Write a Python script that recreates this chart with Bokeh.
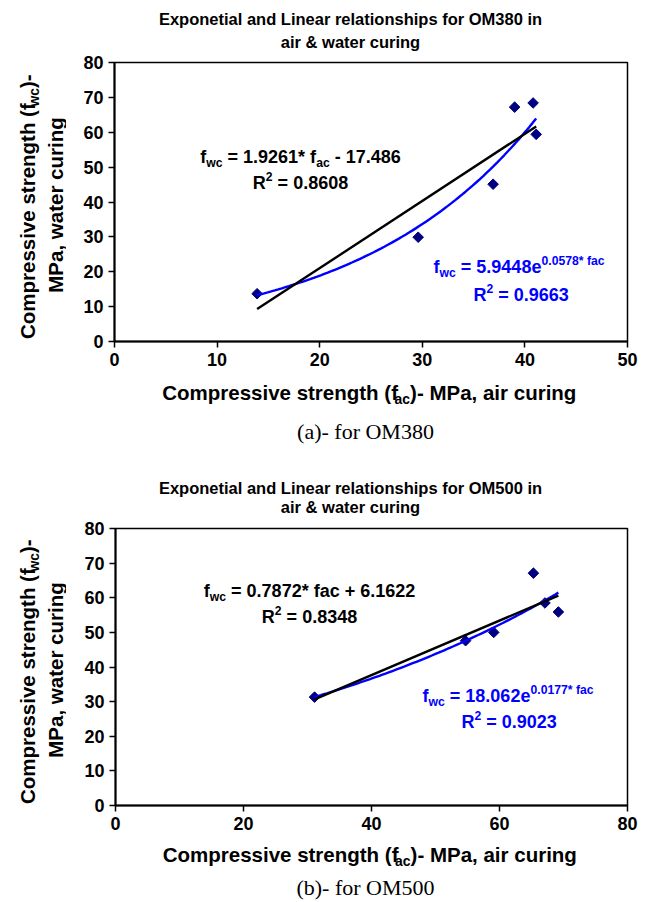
import numpy as np
from bokeh.plotting import figure
from bokeh.models import Range1d, FixedTicker
from bokeh.core.properties import value
from bokeh.layouts import column, row
from bokeh.embed import file_html
from bokeh.resources import INLINE

# ---------------- data: (a) OM380 ----------------
a_fac = [13.9, 29.6, 36.9, 39.0, 40.8, 41.1]
a_fwc = [13.7, 29.9, 45.1, 67.2, 68.4, 59.4]
a_lin = [1.9261, -17.486]      # slope, intercept
a_exp = [5.9448, 0.0578]       # coefficient, exponent
a_r2 = ["0.8608", "0.9663"]
a_xticks = [0, 10, 20, 30, 40, 50]
a_title = ["Exponetial and Linear relationships for OM380 in", "air & water curing"]
a_caption = "(a)- for OM380"

# ---------------- data: (b) OM500 ----------------
b_fac = [31.1, 54.7, 59.1, 65.3, 67.1, 69.2]
b_fwc = [31.3, 47.6, 50.0, 67.1, 58.5, 55.9]
b_lin = [0.7872, 6.1622]
b_exp = [18.062, 0.0177]
b_r2 = ["0.8348", "0.9023"]
b_xticks = [0, 20, 40, 60, 80]
b_title = ["Exponetial and Linear relationships for OM500 in", "air & water curing"]
b_caption = "(b)- for OM500"

yticks = [0, 10, 20, 30, 40, 50, 60, 70, 80]

FONT = "Liberation Sans"
NAVY = "#000080"
BLUE = "#0000FF"
W = 646
YLW = 66
MID = 0.3465   # box centre above baseline, in em (Liberation Sans)

# Arial/Liberation Sans Bold advance widths (1/1000 em)
AW = {' ': 278, '(': 333, ')': 333, '*': 389, '+': 584, ',': 278, '-': 333, '.': 278,
      '=': 584, '&': 722, 'C': 722, 'E': 667, 'L': 611, 'M': 833, 'O': 778, 'P': 667,
      'R': 722, 'a': 556, 'c': 556, 'd': 611, 'e': 556, 'f': 333, 'g': 611, 'h': 611,
      'i': 278, 'l': 278, 'n': 611, 'o': 611, 'p': 611, 'r': 389, 's': 556, 't': 333,
      'u': 611, 'v': 556, 'w': 778, 'x': 556}
for _d in "0123456789":
    AW[_d] = 556


def tw(s, size):
    return sum(AW.get(c, 556) for c in s) / 1000.0 * size


class Canvas:
    """A figure plus the page point (RX, RY) where its data origin sits."""
    def __init__(self, p, RX, RY):
        self.p, self.RX, self.RY = p, RX, RY

    def put(self, cx, cy, txt, fs, color, angle=0.0, font=FONT, style="bold"):
        """Centre of the text box at page pixel (cx, cy)."""
        p = self.p
        p.text(x=[p.x_range.start], y=[p.y_range.start],
               x_offset=cx - self.RX, y_offset=cy - self.RY, text=[txt], angle=angle,
               text_align="center", text_baseline="middle", text_font=value(font),
               text_font_style=style, text_font_size=value(f"{fs:.1f}px"),
               text_color=color)


def rich(cv, segs, px, py, size, color, align="left", angle=0.0, sub_scale=0.68):
    """Line of normal/sub/sup pieces. Along the text px (start or centre), py = centre across."""
    sizes = [size if k == "n" else size * sub_scale for t, k in segs]
    ws = [tw(t, s) for (t, k), s in zip(segs, sizes)]
    total = sum(ws)
    pos = -total / 2.0 if align == "center" else 0.0
    for (t, k), w, fs in zip(segs, ws, sizes):
        lead = len(t) - len(t.lstrip(' '))
        shift = tw(' ' * lead, fs)
        txt = t.strip(' ')
        d = 0.0 if k == "n" else (-0.2 * size if k == "sub" else 0.45 * size)
        down = MID * size - d - MID * fs
        along = pos + shift + tw(txt, fs) / 2.0
        if txt:
            if angle == 0:
                cv.put(px + along, py + down, txt, fs, color)
            else:
                cv.put(px + down, py - along, txt, fs, color, angle=angle)
        pos += w


def text_fig(w, h, ox, oy, b_top=0, b_bottom=0):
    fh = h - b_top - b_bottom
    f = figure(width=w, height=h, output_backend="svg", toolbar_location=None, title=None,
               x_range=Range1d(0, w), y_range=Range1d(0, fh), min_border=0,
               x_axis_type=None, y_axis_type=None)
    f.min_border_left = 0
    f.min_border_right = 0
    f.min_border_top = b_top
    f.min_border_bottom = b_bottom
    f.outline_line_color = None
    f.xgrid.visible = False
    f.ygrid.visible = False
    f.border_fill_color = "white"
    f.background_fill_color = "white"
    return Canvas(f, ox, oy + h - b_bottom)


def make_chart(fac, fwc, lin, exp, r2, xticks, title, caption, top, geo, eq, linear_fac_sub):
    FLp, FRp, FTp, FBp = geo["frame"]
    t_h, m_h, x_h = geo["t_h"], geo["m_h"], geo["x_h"]
    m_top = top + t_h
    x_top = m_top + m_h

    # ---- main plot ----
    p = figure(width=W - YLW, height=m_h, output_backend="svg", toolbar_location=None,
               title=None, x_range=Range1d(xticks[0], xticks[-1]),
               y_range=Range1d(yticks[0], yticks[-1]),
               min_border_left=FLp - YLW, min_border_right=W - FRp,
               min_border_top=FTp - m_top, min_border_bottom=x_top - FBp)
    p.xgrid.visible = False
    p.ygrid.visible = False
    p.outline_line_color = "black"
    p.outline_line_width = 1.5
    p.background_fill_color = "white"
    p.border_fill_color = "white"
    p.xaxis.ticker = FixedTicker(ticks=xticks)
    p.yaxis.ticker = FixedTicker(ticks=yticks)
    for ax in (p.xaxis[0], p.yaxis[0]):
        ax.axis_line_color = "black"
        ax.axis_line_width = 2
        ax.major_tick_line_color = "black"
        ax.major_tick_line_width = 1.5
        ax.major_tick_out = 6
        ax.major_tick_in = 0
        ax.minor_tick_out = 0
        ax.minor_tick_in = 0
        ax.major_label_text_font = FONT
        ax.major_label_text_font_style = "bold"
        ax.major_label_text_font_size = "18px"
        ax.major_label_text_color = "black"
        ax.major_label_standoff = 5
        ax.axis_label = None

    p.scatter(fac, fwc, marker="square", angle=np.pi / 4, size=7.5,
              fill_color=NAVY, line_color=NAVY)
    xs = np.linspace(min(fac), max(fac), 80)
    p.line(xs, exp[0] * np.exp(exp[1] * xs), line_color=BLUE, line_width=2.4)
    xl = np.array([min(fac), max(fac)])
    p.line(xl, lin[0] * xl + lin[1], line_color="black", line_width=2.4)

    cm = Canvas(p, FLp, FBp)
    sgn = "+" if lin[1] >= 0 else "-"
    if linear_fac_sub:
        segs = [("f", "n"), ("wc", "sub"), (f" = {lin[0]}* f", "n"), ("ac", "sub"),
                (f" {sgn} {abs(lin[1])}", "n")]
    else:
        segs = [("f", "n"), ("wc", "sub"), (f" = {lin[0]}* fac {sgn} {abs(lin[1])}", "n")]
    lx, ly1, ly2 = eq["lin"]
    rich(cm, segs, lx, ly1, 18, "black", align="center")
    rich(cm, [("R", "n"), ("2", "sup"), (f" = {r2[0]}", "n")], lx, ly2, 18, "black", align="center")
    ex, ey1, ex2, ey2 = eq["exp"]
    rich(cm, [("f", "n"), ("wc", "sub"), (f" = {exp[0]}e", "n"), (f"{exp[1]}* fac", "sup")],
         ex, ey1, 18, BLUE)
    rich(cm, [("R", "n"), ("2", "sup"), (f" = {r2[1]}", "n")], ex2, ey2, 18, BLUE)

    # ---- title ----
    ct = text_fig(W, t_h, 0, top)
    ct.put(eq["title_x"], eq["title_y"][0], title[0], 16.5, "black")
    ct.put(eq["title_x"], eq["title_y"][1], title[1], 16.5, "black")

    # ---- y label (its frame lines up with the main frame inside the row) ----
    cy_ = text_fig(YLW, m_h, 0, m_top, b_top=FTp - m_top, b_bottom=x_top - FBp)
    cyc = (FTp + FBp) / 2.0 + 3
    rich(cy_, [("Compressive strength (f", "n"), ("wc", "sub"), (")-", "n")],
         27, cyc, 20.5, "black", align="center", angle=np.pi / 2)
    rich(cy_, [("MPa, water curing", "n")], 55, cyc, 20.5, "black", align="center",
         angle=np.pi / 2)

    # ---- x label + caption ----
    cx_ = text_fig(W, x_h, 0, x_top)
    cxc = (FLp + FRp) / 2.0
    rich(cx_, [("Compressive strength (f", "n"), ("ac", "sub"), (")- MPa, air curing", "n")],
         cxc, eq["xlab_y"], 20.5, "black", align="center")
    cx_.put(eq["cap_x"], eq["cap_y"], caption, 22, "black", font="Liberation Serif",
            style="normal")

    return column(ct.p, row(cy_.p, p, spacing=0), cx_.p, spacing=0)


c1 = make_chart(a_fac, a_fwc, a_lin, a_exp, a_r2, a_xticks, a_title, a_caption, top=0,
                geo=dict(frame=(114, 627, 62, 341), t_h=52, m_h=320, x_h=78),
                eq=dict(title_x=350, title_y=(18, 41), xlab_y=392, cap_x=365, cap_y=431,
                        lin=(300, 156.5, 182.5), exp=(433, 266.5, 473, 294.5)),
                linear_fac_sub=True)
c2 = make_chart(b_fac, b_fwc, b_lin, b_exp, b_r2, b_xticks, b_title, b_caption, top=450,
                geo=dict(frame=(115, 627, 528, 805), t_h=66, m_h=322, x_h=62),
                eq=dict(title_x=350, title_y=(487, 506), xlab_y=854, cap_x=365, cap_y=887,
                        lin=(309, 590.5, 616.5), exp=(422, 695.5, 461, 721.5)),
                linear_fac_sub=False)

layout = column(c1, c2, spacing=0)
open("out.html", "w").write(file_html(layout, INLINE))
